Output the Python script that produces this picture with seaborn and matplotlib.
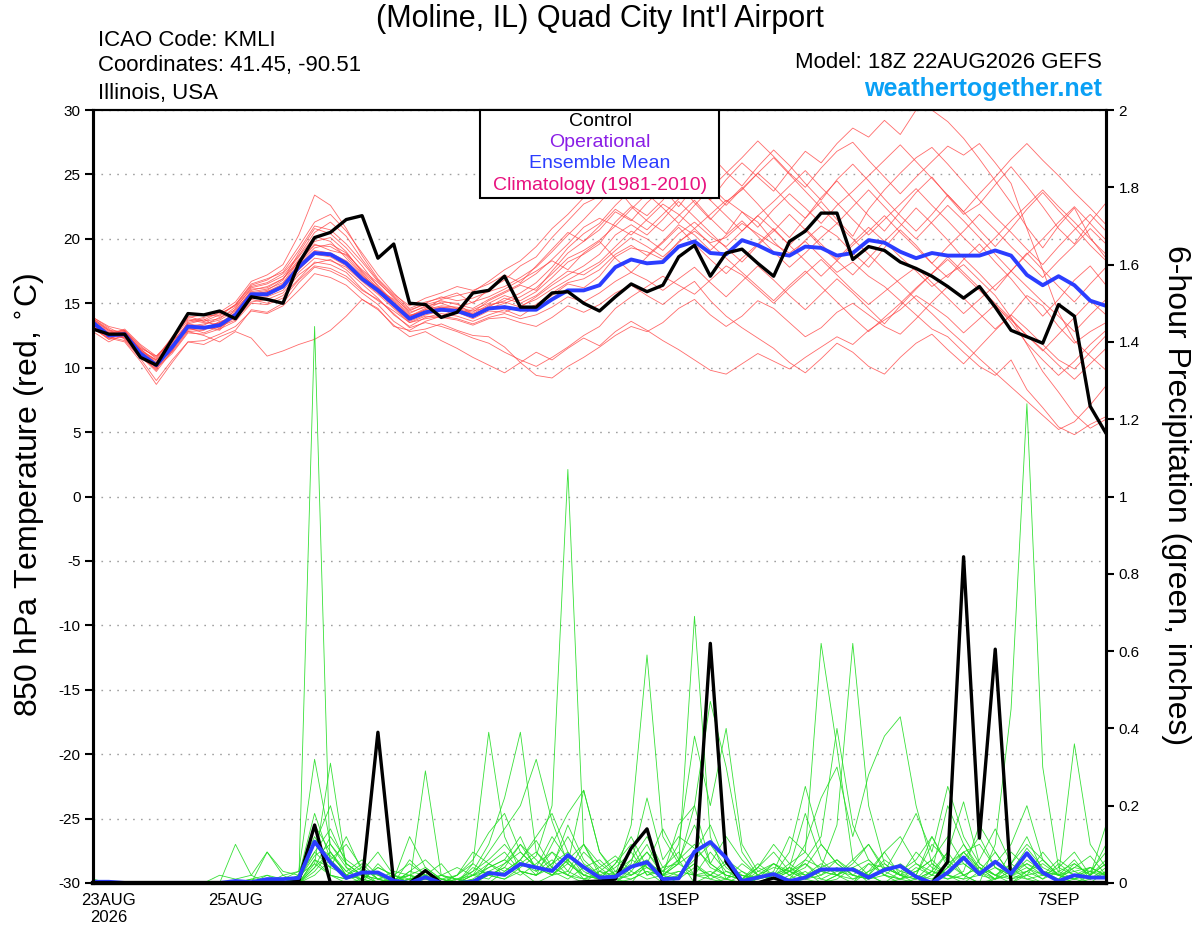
import numpy as np
import pandas as pd
import matplotlib
matplotlib.use("Agg")
import matplotlib.pyplot as plt
import seaborn as sns
from matplotlib.patches import Rectangle

sns.set_style("white")
plt.rcParams['font.family'] = ['Liberation Sans', 'DejaVu Sans']
plt.rcParams['text.color'] = 'black'
plt.rcParams['axes.labelcolor'] = 'black'
plt.rcParams['xtick.color'] = 'black'
plt.rcParams['ytick.color'] = 'black'

# ---------------- data ----------------
times = pd.date_range('2026-08-22 18:00', periods=65, freq='6h')

tick_dates = ['2026-08-23', '2026-08-25', '2026-08-27', '2026-08-29',
              '2026-09-01', '2026-09-03', '2026-09-05', '2026-09-07']
tick_labels = ['23AUG\n2026', '25AUG', '27AUG', '29AUG', '1SEP', '3SEP', '5SEP', '7SEP']

control_temp = [13.0, 12.6, 12.6, 10.8, 10.2, 12.2, 14.2, 14.1, 14.4, 13.8, 15.5, 15.3, 15.0,
                18.1, 20.1, 20.5, 21.5, 21.8, 18.5, 19.6, 15.0, 14.9, 13.9, 14.3, 15.8, 16.0,
                17.1, 14.7, 14.7, 15.8, 15.9, 15.0, 14.4, 15.5, 16.5, 15.9, 16.4, 18.6, 19.5,
                17.1, 18.9, 19.2, 18.1, 17.1, 19.8, 20.6, 22.0, 22.0, 18.4, 19.4, 19.1, 18.2,
                17.7, 17.1, 16.3, 15.4, 16.3, 14.7, 12.9, 12.4, 11.9, 14.9, 14.0, 7.0, 4.9]

mean_temp = [13.5, 12.5, 12.6, 11.1, 10.2, 11.6, 13.2, 13.1, 13.3, 14.1, 15.7, 15.7, 16.3,
             17.8, 18.9, 18.8, 18.1, 16.9, 16.0, 14.9, 13.8, 14.3, 14.5, 14.4, 14.0, 14.6,
             14.7, 14.5, 14.5, 15.3, 16.0, 16.0, 16.4, 17.8, 18.4, 18.1, 18.2, 19.4, 19.8,
             18.9, 18.8, 19.9, 19.5, 18.9, 18.7, 19.4, 19.3, 18.7, 18.9, 19.9, 19.7, 19.0,
             18.5, 18.9, 18.7, 18.7, 18.7, 19.1, 18.7, 17.2, 16.4, 17.1, 16.4, 15.2, 14.8]

control_precip = [0, 0, 0, 0, 0, 0, 0, 0, 0, 0, 0, 0, 0,
                  0.005, 0.15, 0, 0, 0, 0.39, 0, 0, 0.032, 0, 0, 0, 0,
                  0, 0, 0, 0, 0, 0.003, 0.005, 0.01, 0.09, 0.14, 0, 0, 0,
                  0.62, 0.055, 0, 0, 0.013, 0, 0, 0, 0, 0, 0, 0, 0,
                  0, 0, 0.055, 0.844, 0.116, 0.605, 0, 0, 0, 0, 0, 0, 0]

mean_precip = [0.003, 0.003, 0, 0, 0, 0, 0, 0, 0, 0.005, 0.002, 0.01, 0.01,
               0.013, 0.107, 0.053, 0.013, 0.027, 0.027, 0.006, 0, 0.015, 0, 0, 0.003, 0.026,
               0.021, 0.049, 0.04, 0.031, 0.072, 0.041, 0.014, 0.016, 0.042, 0.054, 0.01, 0.012, 0.081,
               0.106, 0.065, 0.005, 0.014, 0.023, 0.005, 0.014, 0.035, 0.035, 0.035, 0.014, 0.034, 0.044,
               0.016, 0, 0.027, 0.066, 0.023, 0.055, 0.024, 0.077, 0.027, 0.005, 0.02, 0.014, 0.014]

temp_m01 = [13.8, 12.9, 12.3, 11.0, 9.8, 11.9, 13.5, 13.8, 13.0, 14.6, 16.2, 16.5, 17.1,
            18.6, 20.2, 19.8, 18.5, 17.2, 16.1, 15.3, 14.2, 14.8, 15.0, 14.6, 14.3, 15.2,
            15.8, 16.4, 16.0, 17.5, 18.9, 19.8, 20.7, 22.1, 21.4, 22.8, 23.9, 22.5, 24.1,
            23.0, 24.6, 25.9, 24.8, 23.7, 25.3, 26.8, 25.9, 27.4, 28.6, 27.9, 29.2, 28.1,
            30.0, 30.0, 29.1, 27.8, 26.2, 24.5, 22.8, 20.9, 19.3, 21.0, 22.4, 20.1, 18.5]
temp_m02 = [13.1, 12.2, 12.8, 11.4, 10.5, 11.2, 12.8, 12.9, 13.6, 13.8, 15.1, 15.3, 15.8,
            17.2, 18.1, 18.4, 17.6, 16.5, 15.4, 14.1, 13.2, 13.9, 14.2, 14.0, 13.6, 14.1,
            14.5, 14.0, 14.8, 15.6, 16.5, 16.2, 17.1, 18.6, 19.3, 19.0, 18.4, 19.8, 20.6,
            19.7, 20.1, 21.2, 20.4, 19.6, 18.9, 19.8, 18.6, 17.4, 18.2, 17.1, 16.3, 15.2,
            14.1, 13.0, 12.4, 11.2, 10.1, 9.4, 10.6, 8.3, 6.9, 5.4, 4.8, 5.6, 6.2]
temp_m03 = [13.6, 12.7, 12.9, 11.6, 10.8, 12.3, 14.0, 13.6, 14.1, 14.9, 16.4, 16.8, 17.6,
            19.4, 21.3, 21.9, 20.6, 18.9, 17.2, 15.8, 14.6, 15.1, 15.4, 15.8, 15.0, 16.1,
            16.8, 17.9, 18.6, 20.1, 21.4, 22.7, 23.3, 24.1, 22.6, 21.8, 23.0, 24.7, 25.3,
            24.1, 22.9, 23.8, 25.1, 24.0, 22.7, 21.6, 23.2, 24.5, 23.1, 21.8, 20.6, 22.1,
            23.6, 24.8, 23.3, 21.9, 22.7, 24.2, 25.6, 24.1, 22.5, 20.8, 19.6, 21.3, 22.8]
temp_m04 = [13.3, 12.4, 12.1, 10.7, 9.0, 10.6, 12.0, 11.8, 12.4, 12.9, 14.5, 14.3, 15.0,
            16.6, 17.8, 17.5, 16.9, 15.8, 14.9, 13.6, 12.8, 13.0, 13.4, 12.9, 12.5, 12.4,
            11.6, 10.4, 9.4, 9.2, 10.1, 10.8, 11.6, 12.5, 13.2, 12.8, 13.5, 14.6, 15.3,
            14.1, 13.2, 14.0, 15.2, 14.6, 13.5, 12.4, 13.1, 14.3, 15.0, 14.1, 13.2, 12.6,
            13.8, 15.1, 16.3, 15.4, 14.2, 13.0, 14.1, 15.6, 14.8, 13.2, 11.9, 12.8, 13.5]
temp_m05 = [13.9, 13.1, 12.5, 11.2, 10.1, 11.4, 13.0, 13.3, 13.9, 14.5, 15.9, 16.1, 16.6,
            18.3, 19.6, 19.1, 18.8, 17.6, 16.6, 15.5, 14.3, 14.7, 14.6, 14.2, 14.5, 15.0,
            15.6, 15.2, 15.9, 17.0, 18.2, 18.8, 19.6, 21.3, 22.5, 21.4, 20.6, 21.8, 23.0,
            21.6, 20.4, 22.1, 21.3, 19.8, 18.6, 19.9, 21.0, 20.2, 18.9, 17.8, 19.3, 20.7,
            19.5, 18.1, 17.0, 18.4, 19.6, 18.2, 16.9, 15.4, 14.0, 15.3, 16.8, 17.9, 16.4]
temp_m06 = [12.8, 12.0, 12.6, 11.3, 10.6, 11.7, 13.1, 12.7, 13.2, 13.7, 15.3, 15.0, 15.6,
            16.9, 18.2, 18.0, 17.4, 16.1, 15.2, 14.4, 13.5, 14.0, 13.9, 13.7, 13.3, 13.8,
            13.9, 13.5, 13.2, 13.9, 14.8, 14.3, 14.9, 15.8, 16.4, 15.6, 14.9, 15.9, 16.7,
            15.2, 14.0, 13.1, 12.3, 11.5, 10.4, 9.6, 10.7, 11.9, 11.2, 10.1, 9.5, 10.8,
            11.9, 12.6, 11.4, 10.3, 11.6, 12.9, 14.1, 13.0, 11.8, 10.6, 9.9, 11.2, 12.5]
temp_m07 = [13.4, 12.6, 12.4, 10.9, 10.0, 12.1, 13.7, 13.5, 13.4, 14.3, 15.8, 16.0, 16.8,
            18.9, 20.8, 20.4, 19.3, 17.9, 16.3, 15.0, 13.9, 14.5, 15.1, 15.0, 14.1, 14.8,
            15.2, 15.8, 16.6, 17.8, 19.3, 20.4, 21.2, 22.6, 23.8, 24.9, 25.6, 24.3, 22.8,
            21.5, 22.8, 24.0, 22.7, 21.3, 20.1, 21.6, 22.9, 21.5, 20.2, 22.3, 23.8, 25.1,
            26.3, 27.1, 25.8, 24.4, 23.0, 21.7, 20.5, 19.2, 18.0, 19.4, 20.7, 21.9, 20.6]
temp_m08 = [13.7, 12.8, 12.7, 11.5, 10.3, 11.5, 13.3, 13.0, 13.5, 14.0, 15.5, 15.6, 16.2,
            17.7, 19.0, 18.7, 18.2, 17.0, 15.9, 14.7, 13.6, 14.1, 14.4, 14.3, 13.8, 14.4,
            14.3, 14.8, 15.3, 16.1, 16.8, 17.5, 18.2, 19.4, 20.6, 20.0, 19.1, 20.4, 21.3,
            20.2, 19.4, 20.6, 21.8, 20.7, 19.5, 20.8, 19.6, 18.4, 19.7, 20.9, 19.8, 18.6,
            17.5, 16.3, 17.2, 18.0, 16.8, 15.6, 13.9, 11.8, 9.7, 8.1, 6.4, 5.3, 6.0]
temp_m09 = [13.2, 12.5, 13.0, 11.8, 10.9, 12.0, 13.4, 13.2, 12.9, 14.2, 15.6, 15.9, 16.5,
            18.1, 19.3, 19.6, 18.9, 17.5, 16.4, 15.1, 14.0, 14.6, 15.3, 15.6, 15.9, 16.7,
            17.6, 18.3, 19.4, 20.8, 21.9, 23.2, 24.5, 26.1, 27.3, 26.2, 25.0, 26.4, 27.8,
            26.5, 25.2, 24.1, 25.6, 26.9, 25.7, 24.3, 23.0, 24.6, 25.8, 24.5, 23.1, 21.8,
            20.6, 21.9, 23.4, 22.1, 20.7, 19.4, 20.8, 22.3, 23.6, 22.2, 20.9, 19.5, 18.3]
temp_m10 = [13.0, 12.3, 12.0, 10.5, 8.7, 10.4, 12.0, 12.1, 12.6, 13.2, 14.4, 14.2, 14.8,
            16.0, 17.3, 17.0, 16.4, 15.3, 14.5, 13.3, 12.4, 12.8, 12.1, 11.5, 10.8, 10.2,
            9.6, 10.4, 11.2, 10.6, 11.5, 12.3, 11.7, 12.8, 13.6, 12.9, 12.1, 11.4, 10.6,
            9.8, 9.5, 10.3, 11.1, 10.5, 9.9, 10.8, 11.6, 12.4, 11.8, 12.9, 13.7, 14.5,
            15.6, 14.8, 13.9, 12.7, 13.8, 14.9, 13.5, 11.9, 10.6, 9.4, 10.5, 11.8, 12.9]
temp_m11 = [13.5, 12.6, 12.7, 11.3, 10.4, 11.8, 13.2, 13.4, 13.7, 14.4, 16.0, 16.3, 16.9,
            18.4, 19.8, 20.1, 19.0, 17.4, 16.2, 15.2, 14.1, 14.3, 14.7, 14.5, 14.2, 14.9,
            15.1, 14.7, 15.5, 16.4, 17.2, 17.9, 18.8, 20.3, 21.1, 20.3, 21.5, 22.9, 21.7,
            20.5, 19.3, 18.2, 19.5, 20.6, 21.9, 20.7, 19.4, 18.3, 17.2, 18.5, 19.8, 21.0,
            22.4, 21.2, 19.9, 18.5, 17.3, 16.0, 17.5, 18.9, 17.6, 16.3, 15.1, 16.5, 17.8]
temp_m12 = [13.8, 13.0, 12.2, 10.8, 9.9, 11.3, 13.6, 13.9, 14.2, 14.8, 16.3, 16.6, 17.3,
            18.7, 20.5, 21.3, 20.2, 18.4, 16.8, 15.6, 14.5, 14.9, 15.2, 14.9, 14.6, 15.3,
            15.9, 16.5, 17.3, 18.4, 19.6, 20.9, 21.6, 21.0, 22.3, 23.5, 22.4, 21.2, 22.6,
            23.9, 25.1, 26.3, 27.6, 26.4, 25.1, 24.0, 25.5, 26.8, 27.5, 26.1, 24.8, 23.5,
            24.8, 26.0, 27.2, 26.5, 27.4, 25.9, 24.3, 20.8, 17.6, 14.3, 12.1, 10.9, 9.8]
temp_m13 = [13.4, 12.4, 12.6, 11.1, 10.2, 11.6, 13.0, 13.0, 13.1, 13.9, 15.4, 15.5, 16.0,
            17.4, 18.5, 18.3, 17.8, 16.7, 15.7, 14.6, 13.5, 13.8, 14.0, 13.8, 13.4, 13.9,
            14.2, 13.8, 14.1, 14.7, 15.5, 15.1, 15.8, 16.7, 17.4, 16.8, 16.0, 16.9, 17.8,
            16.6, 15.5, 16.7, 17.9, 16.8, 15.6, 14.5, 15.7, 16.9, 15.8, 14.6, 13.4, 14.8,
            16.1, 17.3, 18.6, 17.4, 16.2, 15.0, 13.8, 12.5, 11.3, 12.6, 13.9, 15.2, 14.1]
temp_m14 = [13.6, 12.7, 12.9, 11.7, 10.7, 12.4, 13.8, 13.6, 13.8, 14.7, 16.1, 16.2, 16.9,
            18.2, 19.5, 19.4, 18.7, 17.3, 16.0, 14.9, 14.0, 14.5, 14.8, 14.7, 14.4, 14.7,
            15.4, 15.0, 15.6, 16.6, 17.5, 17.2, 18.0, 19.1, 20.1, 19.4, 18.6, 19.7, 20.8,
            21.9, 23.0, 22.1, 20.9, 22.3, 23.5, 22.4, 21.2, 22.6, 23.7, 24.9, 26.1, 27.3,
            26.0, 24.7, 23.4, 22.1, 23.5, 24.8, 26.2, 27.4, 26.1, 24.9, 23.6, 22.4, 21.1]
temp_m15 = [13.1, 12.2, 12.4, 11.0, 10.0, 11.1, 12.7, 12.6, 13.0, 13.6, 15.0, 14.9, 15.4,
            16.8, 17.9, 17.7, 17.1, 16.0, 15.3, 14.2, 13.1, 13.5, 13.2, 12.8, 12.3, 11.9,
            11.2, 10.6, 10.1, 10.8, 11.6, 12.5, 13.2, 14.6, 15.5, 16.3, 17.1, 16.4, 15.7,
            16.8, 17.9, 17.2, 16.1, 15.0, 16.2, 17.3, 18.4, 17.2, 16.0, 14.9, 15.9, 16.9,
            17.8, 16.6, 15.4, 14.2, 15.3, 16.4, 17.5, 16.3, 15.1, 14.0, 12.8, 14.1, 15.3]
temp_m16 = [13.7, 12.9, 12.8, 11.4, 10.6, 12.2, 13.9, 14.1, 14.0, 14.9, 16.5, 16.9, 17.4,
            19.1, 21.0, 20.7, 19.6, 18.2, 16.7, 15.4, 14.4, 15.0, 15.5, 15.2, 15.4, 15.9,
            16.3, 17.0, 17.8, 19.0, 20.3, 21.5, 22.8, 24.2, 25.4, 26.6, 27.8, 26.5, 25.1,
            23.8, 22.6, 23.9, 25.1, 26.3, 25.0, 23.7, 22.4, 21.2, 22.5, 23.8, 22.5, 21.2,
            20.0, 21.3, 22.6, 21.4, 20.1, 18.8, 17.5, 18.8, 20.0, 21.3, 22.5, 21.2, 19.9]
temp_m17 = [13.2, 12.3, 12.5, 11.2, 10.3, 11.7, 13.1, 13.0, 13.4, 14.1, 15.6, 15.8, 16.3,
            17.6, 18.8, 18.6, 17.9, 16.8, 15.8, 14.8, 13.7, 14.2, 14.6, 14.4, 14.0, 14.5,
            14.8, 14.4, 14.9, 15.8, 16.6, 16.9, 17.6, 18.8, 19.5, 18.7, 19.8, 21.1, 20.3,
            19.1, 20.3, 21.4, 20.2, 19.0, 17.8, 18.9, 20.1, 21.2, 20.0, 18.8, 17.6, 16.5,
            15.3, 14.2, 13.0, 11.9, 10.7, 9.6, 8.5, 7.4, 6.3, 5.2, 5.8, 7.1, 8.6]
temp_m18 = [13.3, 12.5, 12.8, 11.5, 10.9, 12.2, 12.8, 12.5, 12.0, 12.8, 12.3, 10.9, 11.3,
            11.8, 12.2, 12.9, 14.0, 15.3, 14.6, 13.2, 12.9, 13.6, 14.0, 14.6, 15.1, 15.5,
            16.1, 16.8, 17.5, 18.3, 17.6, 18.9, 19.8, 18.5, 17.4, 18.6, 19.7, 20.9, 19.6,
            18.4, 17.3, 18.5, 19.6, 20.8, 19.5, 18.3, 17.1, 18.3, 19.5, 20.6, 21.8, 20.5,
            19.3, 18.1, 19.4, 20.6, 21.9, 20.7, 19.4, 18.2, 17.0, 18.3, 19.5, 20.8, 19.6]
temp_m19 = [13.9, 13.2, 12.9, 11.3, 10.2, 11.6, 13.4, 13.7, 14.3, 15.1, 16.7, 17.2, 18.0,
            20.3, 23.4, 22.6, 20.8, 18.7, 16.9, 15.7, 14.8, 15.4, 15.8, 16.3, 16.0, 16.5,
            17.2, 16.6, 17.9, 19.2, 20.5, 19.8, 21.0, 22.3, 21.5, 20.7, 21.9, 23.1, 24.3,
            23.0, 21.8, 20.6, 21.8, 22.9, 24.1, 25.3, 24.0, 22.8, 21.5, 20.3, 21.5, 22.7,
            23.9, 22.6, 21.4, 20.1, 18.9, 20.1, 21.4, 22.6, 23.8, 22.5, 21.3, 20.0, 18.8]
temp_m20 = [13.5, 12.6, 12.3, 10.9, 9.7, 11.3, 12.9, 13.1, 13.5, 14.2, 15.7, 15.9, 16.4,
            18.0, 19.1, 18.9, 18.3, 17.1, 16.2, 15.0, 14.0, 14.4, 14.7, 14.6, 14.1, 14.6,
            15.0, 15.5, 16.2, 17.3, 18.5, 19.1, 19.9, 21.0, 20.3, 21.5, 22.7, 21.9, 20.8,
            19.6, 18.5, 17.4, 16.3, 15.2, 16.4, 17.5, 16.3, 15.1, 13.9, 12.8, 13.9, 15.0,
            16.2, 17.3, 18.4, 17.2, 16.0, 14.8, 13.7, 12.5, 11.4, 10.2, 9.1, 10.3, 11.5]

prcp_m01 = [0, 0, 0, 0, 0, 0, 0, 0, 0, 0, 0, 0, 0,
            0, 1.44, 0.02, 0, 0.01, 0, 0, 0.03, 0.02, 0, 0, 0, 0.05,
            0.08, 0.03, 0, 0.02, 0.06, 0.01, 0, 0, 0.04, 0.10, 0.02, 0, 0,
            0, 0.01, 0.03, 0, 0, 0.02, 0.05, 0.01, 0, 0, 0.03, 0.08, 0.02,
            0, 0, 0.04, 0.10, 0.03, 0, 0, 0.02, 0, 0, 0.01, 0, 0]
prcp_m02 = [0.01, 0, 0, 0, 0, 0, 0, 0, 0, 0, 0, 0, 0,
            0.02, 0.05, 0.31, 0.04, 0, 0, 0.02, 0, 0, 0, 0, 0.01, 0,
            0.03, 0.06, 0.11, 0.04, 0.02, 0, 0.03, 0.01, 0, 0.05, 0.14, 0.06, 0,
            0.02, 0, 0, 0.04, 0.08, 0.03, 0.01, 0, 0.02, 0.04, 0, 0, 0.03,
            0.06, 0.12, 0.05, 0.02, 0, 0.10, 0.45, 1.24, 0.30, 0.04, 0.02, 0, 0.03]
prcp_m03 = [0, 0, 0, 0, 0, 0, 0, 0, 0, 0, 0, 0.02, 0.01,
            0, 0.03, 0.08, 0.02, 0, 0.05, 0.01, 0, 0.29, 0.02, 0, 0, 0.02,
            0.01, 0.04, 0.07, 0.20, 1.07, 0.10, 0.02, 0, 0.01, 0.03, 0, 0.02, 0.05,
            0.01, 0, 0.02, 0, 0, 0.01, 0.03, 0, 0.02, 0, 0.05, 0.02, 0,
            0, 0.03, 0.08, 0.02, 0, 0.01, 0.05, 0.12, 0.03, 0, 0, 0.02, 0.05]
prcp_m04 = [0, 0, 0, 0, 0, 0, 0, 0, 0, 0.10, 0.02, 0, 0,
            0.01, 0.08, 0.14, 0.05, 0.02, 0, 0, 0.02, 0.01, 0, 0, 0.05, 0.39,
            0.12, 0.03, 0.02, 0.05, 0.08, 0.02, 0.01, 0.05, 0.12, 0.04, 0.02, 0.05, 0.69,
            0.12, 0.01, 0, 0.03, 0.05, 0.02, 0, 0, 0.01, 0.04, 0.02, 0, 0,
            0.01, 0.05, 0.02, 0, 0.03, 0.08, 0.02, 0.01, 0, 0, 0.02, 0.03, 0.08]
prcp_m05 = [0, 0, 0, 0, 0, 0, 0, 0, 0, 0, 0, 0.08, 0.02,
            0, 0.06, 0.04, 0.12, 0.03, 0, 0, 0.01, 0.02, 0.05, 0, 0.03, 0.10,
            0.22, 0.39, 0.08, 0.04, 0.15, 0.06, 0.02, 0, 0.03, 0.08, 0.02, 0.01, 0.04,
            0.02, 0.05, 0, 0.01, 0.03, 0.12, 0.08, 0.62, 0.35, 0.06, 0.02, 0, 0.01,
            0.04, 0.02, 0.08, 0.21, 0.05, 0.02, 0, 0.03, 0.06, 0.02, 0, 0.01, 0.04]
prcp_m06 = [0, 0, 0, 0, 0, 0, 0, 0, 0, 0, 0.01, 0, 0,
            0.02, 0.10, 0.07, 0.03, 0.01, 0.04, 0.02, 0, 0.03, 0.01, 0, 0.02, 0.08,
            0.14, 0.20, 0.32, 0.16, 0.05, 0.02, 0.04, 0.07, 0.03, 0.01, 0.02, 0.06, 0.10,
            0.04, 0.02, 0.01, 0.05, 0.02, 0.03, 0.06, 0.04, 0.15, 0.62, 0.20, 0.05, 0.02,
            0.01, 0.03, 0.02, 0.06, 0.12, 0.04, 0.02, 0.03, 0.01, 0.05, 0.02, 0.04, 0.02]
prcp_m07 = [0, 0, 0, 0, 0, 0, 0, 0, 0, 0, 0, 0, 0.01,
            0.03, 0.12, 0.05, 0.02, 0.04, 0.01, 0, 0.06, 0.02, 0, 0.02, 0.08, 0.05,
            0.03, 0.06, 0.02, 0.10, 0.18, 0.24, 0.08, 0.02, 0.15, 0.59, 0.12, 0.05, 0.02,
            0.08, 0.03, 0.01, 0, 0.02, 0.04, 0.01, 0.03, 0.02, 0.05, 0.10, 0.03, 0.01,
            0.02, 0.10, 0.06, 0.02, 0.04, 0.01, 0.03, 0.09, 0.04, 0.02, 0.06, 0.01, 0.03]
prcp_m08 = [0, 0, 0, 0, 0, 0, 0, 0, 0, 0, 0, 0, 0,
            0.01, 0.07, 0.10, 0.04, 0.02, 0, 0.01, 0.02, 0.04, 0.01, 0, 0.01, 0.04,
            0.06, 0.12, 0.03, 0.08, 0.05, 0.02, 0.01, 0.03, 0.06, 0.12, 0.04, 0.05, 0.20,
            0.47, 0.30, 0.08, 0.02, 0.01, 0.03, 0.05, 0.02, 0.04, 0.01, 0.02, 0.06, 0.03,
            0.02, 0.01, 0.04, 0.08, 0.10, 0.04, 0.02, 0.06, 0.03, 0.02, 0.36, 0.10, 0.04]
prcp_m09 = [0, 0, 0, 0, 0, 0, 0, 0, 0, 0, 0, 0, 0,
            0, 0.04, 0.12, 0.06, 0.03, 0.02, 0, 0, 0.01, 0.02, 0.01, 0, 0.03,
            0.05, 0.08, 0.04, 0.02, 0.03, 0.10, 0.05, 0.02, 0.04, 0.08, 0.03, 0.10, 0.38,
            0.20, 0.40, 0.10, 0.03, 0.02, 0.01, 0.06, 0.12, 0.40, 0.15, 0.06, 0.02, 0.01,
            0.03, 0.06, 0.12, 0.05, 0.02, 0.04, 0.01, 0.02, 0.08, 0.03, 0.01, 0.02, 0.05]
prcp_m10 = [0, 0, 0, 0, 0, 0, 0, 0, 0, 0, 0, 0, 0,
            0, 0.02, 0.06, 0.10, 0.04, 0.01, 0.03, 0.02, 0, 0, 0.01, 0.03, 0.06,
            0.10, 0.05, 0.03, 0.06, 0.02, 0.08, 0.04, 0.01, 0.02, 0.05, 0.03, 0.02, 0.06,
            0.10, 0.04, 0.01, 0.02, 0.05, 0.03, 0.10, 0.22, 0.30, 0.12, 0.28, 0.38, 0.43,
            0.20, 0.05, 0.02, 0.08, 0.04, 0.01, 0.03, 0.05, 0.02, 0.04, 0.08, 0.02, 0.06]
prcp_m11 = [0, 0, 0, 0, 0, 0, 0, 0, 0.02, 0.01, 0.02, 0.08, 0.03,
            0.02, 0.08, 0.04, 0.02, 0.05, 0.01, 0, 0.03, 0.06, 0.02, 0.01, 0, 0.02,
            0.04, 0.10, 0.06, 0.02, 0.05, 0.24, 0.08, 0.03, 0.02, 0.05, 0.01, 0.03, 0.02,
            0.02, 0.06, 0.03, 0.01, 0.02, 0.05, 0.08, 0.03, 0.02, 0.06, 0.10, 0.04, 0.02,
            0.05, 0.02, 0.01, 0.03, 0.15, 0.08, 0.02, 0.04, 0.01, 0.03, 0.05, 0.02, 0.15]
prcp_m12 = [0, 0, 0, 0, 0, 0, 0, 0, 0, 0, 0, 0, 0.02,
            0.03, 0.32, 0.10, 0.05, 0.02, 0.03, 0, 0.01, 0.02, 0.01, 0, 0.02, 0.05,
            0.02, 0.06, 0.12, 0.18, 0.08, 0.03, 0.01, 0.05, 0.10, 0.02, 0.04, 0.08, 0.02,
            0.03, 0.01, 0.05, 0.02, 0.01, 0.04, 0.18, 0.06, 0.02, 0.01, 0.03, 0.05, 0.02,
            0.08, 0.04, 0.02, 0.01, 0.06, 0.14, 0.05, 0.02, 0.03, 0.01, 0.04, 0.07, 0.02]
prcp_m13 = [0, 0, 0, 0, 0, 0, 0, 0, 0, 0, 0.01, 0.02, 0,
            0.01, 0.15, 0.08, 0.03, 0.06, 0.02, 0.01, 0.12, 0.04, 0.01, 0.02, 0.06, 0.13,
            0.18, 0.08, 0.04, 0.02, 0.06, 0.10, 0.03, 0.02, 0.05, 0.22, 0.06, 0.12, 0.09,
            0.05, 0.12, 0.06, 0.02, 0.04, 0.03, 0.01, 0.02, 0.06, 0.03, 0.02, 0.08, 0.12,
            0.05, 0.03, 0.20, 0.10, 0.04, 0.02, 0.05, 0.10, 0.06, 0.02, 0.03, 0.04, 0.02]
prcp_m14 = [0, 0, 0, 0, 0, 0, 0, 0, 0, 0, 0, 0, 0,
            0, 0.05, 0.02, 0.01, 0.03, 0.08, 0.02, 0, 0.01, 0, 0.02, 0.05, 0.02,
            0.04, 0.02, 0.05, 0.08, 0.03, 0.01, 0.02, 0.04, 0.08, 0.02, 0.03, 0.06, 0.15,
            0.05, 0.02, 0.01, 0.04, 0.02, 0.08, 0.25, 0.10, 0.05, 0.02, 0.01, 0.03, 0.10,
            0.18, 0.08, 0.25, 0.12, 0.05, 0.02, 0.04, 0.01, 0.02, 0.06, 0.03, 0.01, 0.02]
prcp_m15 = [0, 0, 0, 0, 0, 0, 0, 0, 0, 0, 0, 0, 0,
            0.02, 0.18, 0.06, 0.02, 0.01, 0.04, 0.02, 0.01, 0, 0.02, 0.04, 0.02, 0.01,
            0.05, 0.10, 0.04, 0.12, 0.06, 0.02, 0.01, 0.02, 0.04, 0.06, 0.02, 0.15, 0.20,
            0.05, 0.02, 0.01, 0.04, 0.10, 0.05, 0.02, 0.04, 0.06, 0.02, 0.01, 0.02, 0.05,
            0.02, 0.12, 0.04, 0.05, 0.02, 0.01, 0.08, 0.04, 0.02, 0.01, 0.05, 0.02, 0.10]
prcp_m16 = [0, 0, 0, 0, 0, 0, 0, 0, 0, 0, 0, 0, 0,
            0, 0.06, 0.02, 0.01, 0.02, 0.01, 0, 0.01, 0.03, 0.01, 0, 0.04, 0.02,
            0.01, 0.03, 0.02, 0.04, 0.02, 0.01, 0.03, 0.06, 0.02, 0.04, 0.01, 0.02, 0.05,
            0.02, 0.01, 0, 0.02, 0.01, 0.03, 0.02, 0.05, 0.02, 0.04, 0.06, 0.02, 0.01,
            0, 0.02, 0.05, 0.08, 0.03, 0.01, 0.02, 0.05, 0.03, 0.02, 0.04, 0.03, 0.01]
prcp_m17 = [0, 0, 0, 0, 0, 0, 0, 0, 0, 0, 0, 0, 0,
            0.01, 0.10, 0.20, 0.05, 0.02, 0.01, 0.02, 0.05, 0.02, 0, 0.01, 0.02, 0.04,
            0.06, 0.03, 0.02, 0.05, 0.12, 0.05, 0.02, 0.01, 0.06, 0.04, 0.02, 0.03, 0.02,
            0.01, 0.03, 0.02, 0.01, 0.05, 0.02, 0.04, 0.10, 0.05, 0.02, 0.01, 0.04, 0.02,
            0.03, 0.06, 0.02, 0.01, 0.02, 0.05, 0.10, 0.20, 0.06, 0.02, 0.01, 0.04, 0.02]
prcp_m18 = [0, 0, 0, 0, 0, 0, 0, 0, 0, 0, 0, 0, 0,
            0, 0.04, 0.08, 0.02, 0.01, 0, 0.01, 0.02, 0.01, 0, 0, 0.02, 0.03,
            0.02, 0.05, 0.08, 0.03, 0.01, 0.04, 0.06, 0.02, 0.01, 0.03, 0.02, 0.05, 0.08,
            0.15, 0.05, 0.02, 0.01, 0.02, 0.04, 0.02, 0.01, 0.03, 0.02, 0.05, 0.04, 0.02,
            0.01, 0.03, 0.01, 0.02, 0.04, 0.02, 0.01, 0.03, 0.05, 0.02, 0.01, 0.03, 0.02]

temp_members = [temp_m01, temp_m02, temp_m03, temp_m04, temp_m05, temp_m06, temp_m07,
                temp_m08, temp_m09, temp_m10, temp_m11, temp_m12, temp_m13, temp_m14,
                temp_m15, temp_m16, temp_m17, temp_m18, temp_m19, temp_m20]
prcp_members = [prcp_m01, prcp_m02, prcp_m03, prcp_m04, prcp_m05, prcp_m06, prcp_m07,
                prcp_m08, prcp_m09, prcp_m10, prcp_m11, prcp_m12, prcp_m13, prcp_m14,
                prcp_m15, prcp_m16, prcp_m17, prcp_m18]

legend_labels = ['Control', 'Operational', 'Ensemble Mean', 'Climatology (1981-2010)']
legend_colors = ['#000000', '#8a1ee6', '#2b3dff', '#e8127f']

# ---------------- frames ----------------
n = len(times)
df_temp = pd.DataFrame({
    'time': np.tile(times, len(temp_members)),
    'member': np.repeat(np.arange(len(temp_members)), n),
    'value': np.concatenate([np.array(m, dtype=float) for m in temp_members]),
})
df_prcp = pd.DataFrame({
    'time': np.tile(times, len(prcp_members)),
    'member': np.repeat(np.arange(len(prcp_members)), n),
    'value': np.concatenate([np.array(m, dtype=float) for m in prcp_members]),
})

# ---------------- figure ----------------
fig = plt.figure(figsize=(12, 9.27), dpi=100)
ax = fig.add_axes([0.0775, 0.0475, 0.8442, 0.8338])
ax2 = ax.twinx()

RED = '#ff4545'
GREEN = '#22dd22'
BLUE = '#2b3dff'

sns.lineplot(data=df_temp, x='time', y='value', units='member', estimator=None,
             color=RED, lw=0.6, alpha=0.8, ax=ax, legend=False)
sns.lineplot(x=times, y=mean_temp, color=BLUE, lw=2.8, ax=ax, legend=False)
sns.lineplot(x=times, y=control_temp, color='black', lw=2.4, ax=ax, legend=False)

sns.lineplot(data=df_prcp, x='time', y='value', units='member', estimator=None,
             color=GREEN, lw=0.6, alpha=0.9, ax=ax2, legend=False)
sns.lineplot(x=times, y=control_precip, color='black', lw=2.4, ax=ax2, legend=False)
sns.lineplot(x=times, y=mean_precip, color=BLUE, lw=2.8, ax=ax2, legend=False)

# axes
ax.set_xlim(times[0], times[-1])
ax.set_ylim(-30, 30)
ax2.set_ylim(0, 2)
ax.set_yticks(np.arange(-30, 31, 5))
ax.set_yticklabels([str(v) for v in range(-30, 31, 5)])
pticks = np.round(np.arange(0, 2.01, 0.2), 1)
ax2.set_yticks(pticks)
ax2.set_yticklabels([f'{v:g}' for v in pticks])
ax.set_xticks(pd.to_datetime(tick_dates))
ax.set_xticklabels(tick_labels)
ax.set_xlabel('')
ax.set_ylabel('')
ax2.set_ylabel('')

ax.yaxis.grid(True, linestyle=(0, (1.2, 4.5)), color='#a0a0a0', lw=1.0)
ax.xaxis.grid(False)
ax2.grid(False)
ax.set_axisbelow(True)

for a in (ax, ax2):
    for s in a.spines.values():
        s.set_color('black')
    a.spines['left'].set_linewidth(2.2)
    a.spines['right'].set_linewidth(2.2)
    a.spines['top'].set_linewidth(1.5)
    a.spines['bottom'].set_linewidth(3)

ax.tick_params(axis='y', direction='out', length=6, width=1.5, labelsize=11, pad=3)
ax.tick_params(axis='x', direction='out', length=5, width=1.5, labelsize=12, pad=2)
ax2.tick_params(axis='y', direction='out', length=6, width=1.5, labelsize=11, pad=3)
for lab in ax.get_xticklabels():
    lab.set_linespacing(1.2)

# texts
fig.text(0.5, 1 - 19 / 927, "(Moline, IL) Quad City Int'l Airport", ha='center', va='center',
         fontsize=22)
fig.text(98 / 1200, 1 - 40 / 927, 'ICAO Code: KMLI', ha='left', va='center', fontsize=16)
fig.text(98 / 1200, 1 - 66 / 927, 'Coordinates: 41.45, -90.51', ha='left', va='center', fontsize=16)
fig.text(98 / 1200, 1 - 93 / 927, 'Illinois, USA', ha='left', va='center', fontsize=16)
fig.text(1102 / 1200, 1 - 63 / 927, 'Model: 18Z 22AUG2026 GEFS', ha='right', va='center', fontsize=16)
fig.text(1102 / 1200, 1 - 89 / 927, 'weathertogether.net', ha='right', va='center', fontsize=18,
         fontweight='bold', color='#0aa0f5')

fig.text(30 / 1200, 1 - 495 / 927, '850 hPa Temperature (red, $^{\\circ}$C)', rotation=90,
         ha='center', va='center', fontsize=23)
fig.text(1176 / 1200, 1 - 495 / 927, '6-hour Precipitation (green, inches)', rotation=270,
         ha='center', va='center', fontsize=23)

# legend box
box = Rectangle((480 / 1200, 1 - 198 / 927), 239 / 1200, 88 / 927, transform=fig.transFigure,
                facecolor='white', edgecolor='black', lw=1.5, zorder=5)
fig.patches.append(box)
for k, (lab, col) in enumerate(zip(legend_labels, legend_colors)):
    fig.text(600 / 1200, 1 - (121 + 21.5 * k) / 927, lab, ha='center', va='center',
             fontsize=14, color=col, zorder=6)

fig.savefig('out.png', dpi=100)
